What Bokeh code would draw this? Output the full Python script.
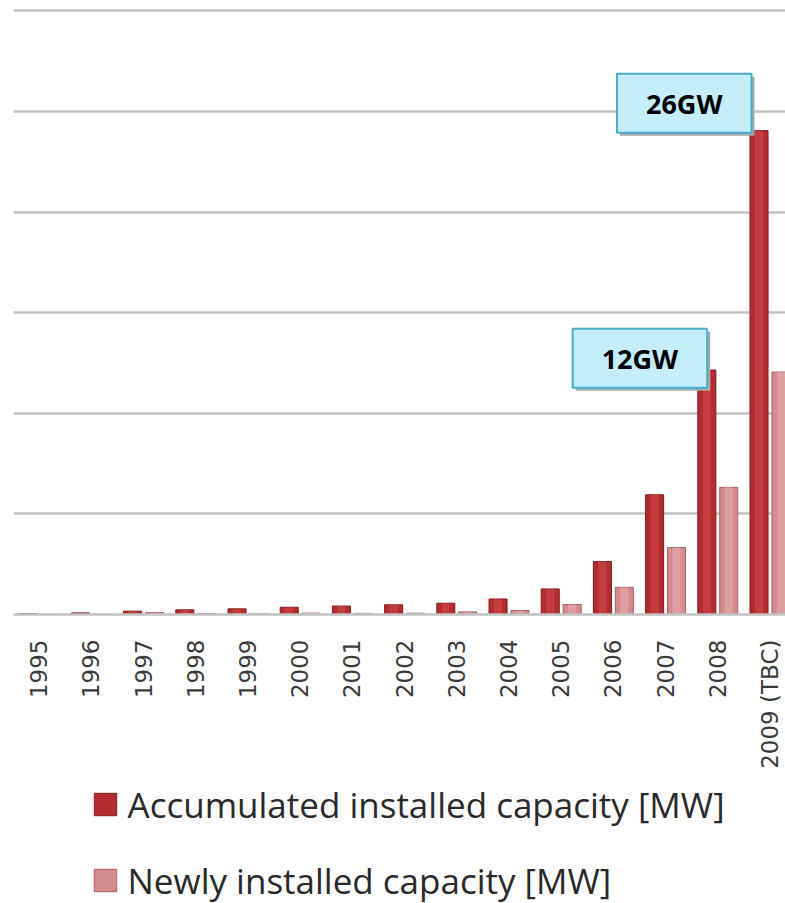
import math
from bokeh.plotting import figure
from bokeh.layouts import column
from bokeh.models import Range1d, FixedTicker, Label, Legend, LegendItem
from bokeh.embed import file_html
from bokeh.resources import INLINE

# ---- data ----
years = ["1995", "1996", "1997", "1998", "1999", "2000", "2001", "2002",
         "2003", "2004", "2005", "2006", "2007", "2008", "2009 (TBC)"]
accumulated_mw = [40, 80, 165, 230, 280, 360, 420, 480, 560, 770,
                  1270, 2630, 5950, 12150, 24050]
newly_mw = [15, 20, 95, 45, 30, 70, 55, 65, 130, 200,
            500, 1350, 3330, 6320, 12050]
grid_values = [0, 5000, 10000, 15000, 20000, 25000, 30000]
callout_texts = ["12GW", "26GW"]
callout_years = ["2008", "2009 (TBC)"]

acc_name = "Accumulated installed capacity [MW]"
new_name = "Newly installed capacity [MW]"

ACC_FILL, ACC_LINE, ACC_HI = "#b52c30", "#7e1b1f", "#d3484c"
NEW_FILL, NEW_LINE, NEW_HI = "#d38b8e", "#a56064", "#e9b1b3"

idx = list(range(len(years)))
dodge = 0.21
bar_w = 0.345

p = figure(width=785, height=772,
           x_range=Range1d(-0.492, 14.297), y_range=Range1d(0, 30120),
           output_backend="svg", toolbar_location=None,
           min_border_left=13, min_border_right=0, min_border_top=8,
           min_border_bottom=158)
p.outline_line_color = None

# grid
p.yaxis.visible = False
p.ygrid.ticker = FixedTicker(ticks=grid_values)
p.ygrid.grid_line_color = "#c2c2c2"
p.ygrid.grid_line_width = 2.5
p.xgrid.grid_line_color = None

# x axis
p.xaxis.ticker = FixedTicker(ticks=idx)
p.xaxis.major_label_overrides = {i: y for i, y in zip(idx, years)}
p.xaxis.major_label_orientation = math.pi / 2
p.xaxis.major_tick_line_color = None
p.xaxis.minor_tick_line_color = None
p.xaxis.major_tick_out = 0
p.xaxis.major_tick_in = 0
p.xaxis.major_label_standoff = 25
p.xaxis.axis_line_color = "#c2c2c2"
p.xaxis.axis_line_width = 2.5
p.xaxis.major_label_text_font = "DejaVu Sans"
p.xaxis.major_label_text_font_size = "23px"
p.xaxis.major_label_text_color = "#3a3a3a"

acc_x = [i - dodge for i in idx]
new_x = [i + dodge for i in idx]

# bars (base + soft highlight for the cylinder look)
p.vbar(x=acc_x, top=accumulated_mw, width=bar_w, bottom=0,
       fill_color=ACC_FILL, line_color=ACC_LINE, line_width=1)
p.vbar(x=acc_x, top=accumulated_mw, width=bar_w * 0.45, bottom=0,
       fill_color=ACC_HI, fill_alpha=0.55, line_color=None)
p.vbar(x=new_x, top=newly_mw, width=bar_w, bottom=0,
       fill_color=NEW_FILL, line_color=NEW_LINE, line_width=1)
p.vbar(x=new_x, top=newly_mw, width=bar_w * 0.45, bottom=0,
       fill_color=NEW_HI, fill_alpha=0.55, line_color=None)

# callouts
offsets = {"12GW": (-10.6, -17.7), "26GW": (-18.5, -2)}
for txt, yr in zip(callout_texts, callout_years):
    i = years.index(yr)
    xo, yo = offsets[txt]
    common = dict(x=i, y=accumulated_mw[i], text=txt, text_align="right",
                  text_baseline="bottom", text_font="Open Sans",
                  text_font_style="bold", text_font_size="27px",
                  padding=(29, 11))
    shadow = Label(x_offset=xo + 3, y_offset=yo - 3, text_color="#a8a8a8",
                   background_fill_color="#a8a8a8", border_line_color=None,
                   **common)
    box = Label(x_offset=xo, y_offset=yo, text_color="black",
                background_fill_color="#c4eefa", border_line_color="#4aaccb",
                border_line_width=2, **common)
    p.add_layout(shadow)
    p.add_layout(box)

# legend strip below the chart (swatch renderers sit outside its view)
lg = figure(width=785, height=131, x_range=Range1d(0, 1), y_range=Range1d(0, 1),
            output_backend="svg", toolbar_location=None,
            min_border_left=0, min_border_right=0, min_border_top=0,
            min_border_bottom=0)
lg.axis.visible = False
lg.grid.visible = False
lg.outline_line_color = None
la = lg.vbar(x=[5], top=[1], width=0.1, fill_color=ACC_FILL, line_color=ACC_LINE)
ln = lg.vbar(x=[5], top=[1], width=0.1, fill_color=NEW_FILL, line_color=NEW_LINE)

legend = Legend(items=[LegendItem(label=acc_name, renderers=[la]),
                       LegendItem(label=new_name, renderers=[ln])],
                location=(77.5, -0.5), orientation="vertical",
                glyph_width=28, glyph_height=28, label_standoff=9,
                spacing=29, padding=0, margin=0,
                border_line_color=None, background_fill_alpha=0,
                label_text_font="Open Sans", label_text_font_size="35px",
                label_text_color="#2a2a2a")
lg.add_layout(legend)

layout = column(p, lg, spacing=0)
open("out.html", "w").write(file_html(layout, INLINE))
